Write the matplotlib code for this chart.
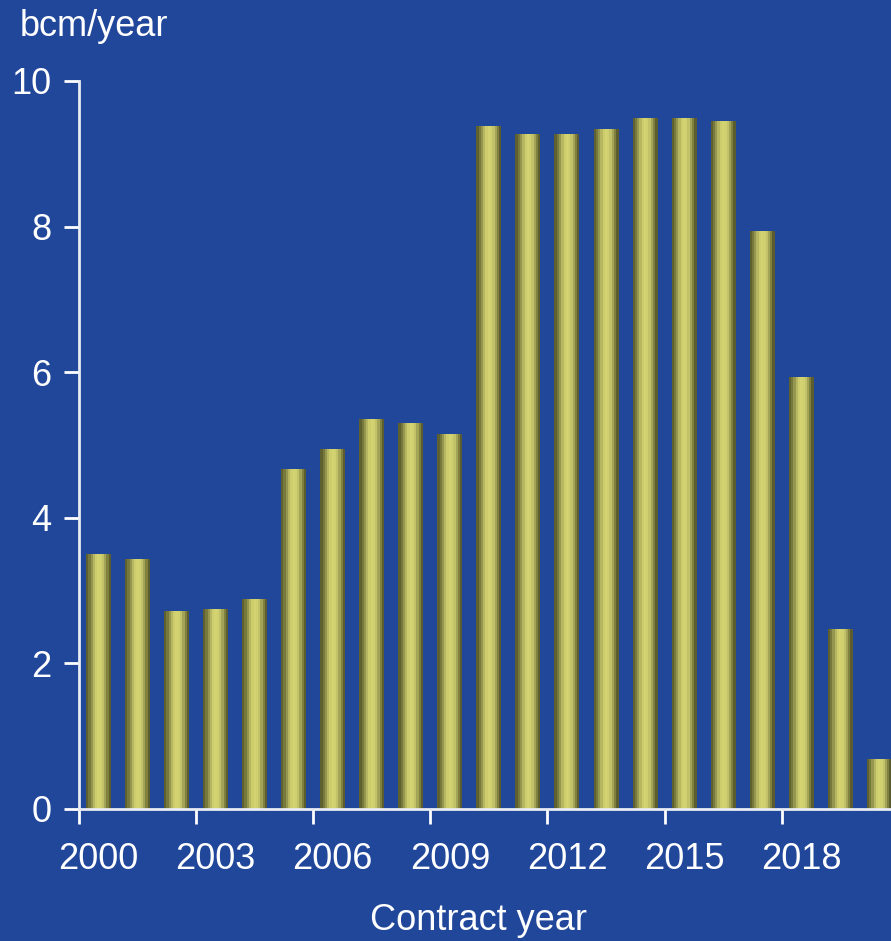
import numpy as np
import matplotlib.pyplot as plt
from matplotlib.ticker import FixedLocator

years = list(range(2000, 2021))
volumes = [3.50, 3.43, 2.72, 2.75, 2.88, 4.67, 4.95, 5.36, 5.30, 5.15,
           9.38, 9.27, 9.27, 9.34, 9.49, 9.49, 9.45, 7.94, 5.93, 2.47, 0.69]
label_years = [2000, 2003, 2006, 2009, 2012, 2015, 2018]

bg = "#21479b"
# cylinder shading: narrow vertical bands across each bar, dark edges and bright centre
band_colors = ["#5f602f", "#77783b", "#95964f", "#b6b760", "#cdcd6e", "#d3d372",
               "#d0d070", "#c2c368", "#a3a457", "#80813f", "#5c5d2e"]

plt.rcParams["font.family"] = ["Liberation Sans", "DejaVu Sans"]

fig = plt.figure(figsize=(8.91, 9.41), dpi=100, facecolor=bg)
ax = fig.add_axes([79 / 891, 1 - 809 / 941, 1 - 79 / 891, (809 - 81) / 941])
ax.set_facecolor(bg)

x = np.arange(len(years))
width = 0.64
n = len(band_colors)
bw = width / n
for k, c in enumerate(band_colors):
    ax.bar(x - width / 2 + (k + 0.5) * bw, volumes, width=bw * 1.02,
           color=c, edgecolor="none", zorder=2)

ax.set_xlim(-0.5, 20.3)
ax.set_ylim(0, 10)

# tick marks between category groups, labels centred on the year
ax.xaxis.set_major_locator(FixedLocator(np.arange(-0.5, 20, 3)))
ax.xaxis.set_major_formatter(plt.NullFormatter())
ax.xaxis.set_minor_locator(FixedLocator([years.index(y) for y in label_years]))
ax.set_xticklabels([str(y) for y in label_years], minor=True)
ax.tick_params(axis="x", which="major", length=11, width=2, color="white", direction="out")
ax.tick_params(axis="x", which="minor", length=0, pad=24, labelsize=26, labelcolor="white")

ax.set_yticks([0, 2, 4, 6, 8, 10])
ax.tick_params(axis="y", length=11, width=2, color="white", direction="out",
               pad=9, labelsize=26, labelcolor="white")

for s in ["top", "right"]:
    ax.spines[s].set_visible(False)
for s in ["left", "bottom"]:
    ax.spines[s].set_color("#e8ecf4")
    ax.spines[s].set_linewidth(2)
    ax.spines[s].set_zorder(3)

fig.text(20 / 891, 1 - 26 / 941, "bcm/year", color="white", fontsize=26,
         ha="left", va="center")
fig.text(478 / 891, 1 - 920 / 941, "Contract year", color="white", fontsize=26,
         ha="center", va="center")

fig.savefig("out.png", dpi=100, facecolor=bg)
